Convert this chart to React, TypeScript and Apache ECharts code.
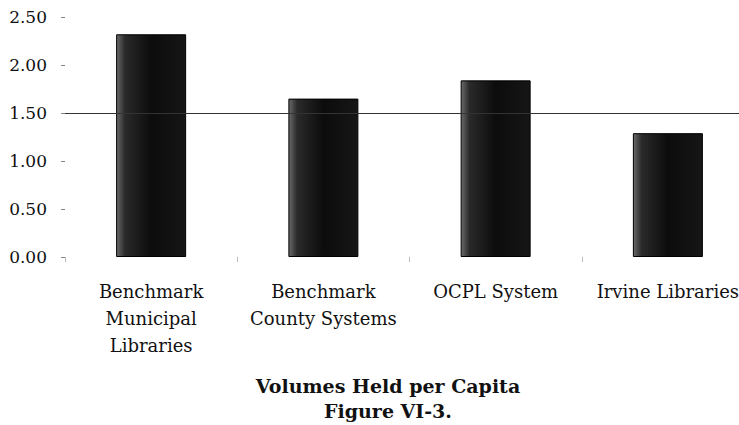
import React, { useEffect, useRef } from "react";
import * as echarts from "echarts";

const categories = [
  "Benchmark\nMunicipal\nLibraries",
  "Benchmark\nCounty Systems",
  "OCPL System",
  "Irvine Libraries",
];
const volumesPerCapita = [2.32, 1.65, 1.84, 1.29];
const referenceValue = 1.5;
const titleLines = ["Volumes Held per Capita", "Figure VI-3."];

export default function App() {
  const ref = useRef<HTMLDivElement>(null);
  useEffect(() => {
    if (!ref.current) return;
    const chart = echarts.init(ref.current, undefined, { renderer: "svg" });
    const font = "DejaVu Serif";
    chart.setOption({
      animation: false,
      backgroundColor: "#ffffff",
      title: {
        text: titleLines.join("\n"),
        left: 383,
        top: 368,
        textAlign: "center",
        textStyle: {
          fontFamily: font,
          fontWeight: "bold",
          fontSize: 19,
          lineHeight: 25,
          color: "#111",
        },
      },
      grid: { left: 65, top: 17, width: 689, height: 240 },
      xAxis: {
        type: "category",
        data: categories,
        axisLine: { show: false },
        axisTick: {
          show: true,
          length: 5,
          lineStyle: { color: "#bbb", width: 1 },
        },
        axisLabel: {
          margin: 21,
          fontFamily: font,
          fontSize: 18,
          lineHeight: 27,
          color: "#111",
          interval: 0,
        },
      },
      yAxis: {
        type: "value",
        min: 0,
        max: 2.5,
        interval: 0.5,
        axisLine: { show: false },
        axisTick: {
          show: true,
          length: 4,
          lineStyle: { color: "#888", width: 1 },
        },
        splitLine: { show: false },
        axisLabel: {
          margin: 18,
          fontFamily: font,
          fontSize: 17,
          color: "#111",
          formatter: (v: number) => v.toFixed(2),
        },
      },
      series: [
        {
          type: "bar",
          data: volumesPerCapita,
          barWidth: 70,
          itemStyle: {
            color: new echarts.graphic.LinearGradient(0, 0, 1, 0, [
              { offset: 0, color: "#6a6a6a" },
              { offset: 0.12, color: "#2a2a2a" },
              { offset: 0.5, color: "#0c0c0c" },
              { offset: 1, color: "#161616" },
            ]),
            borderColor: "#000",
            borderWidth: 1,
          },
          markLine: {
            silent: true,
            symbol: ["none", "none"],
            label: { show: false },
            lineStyle: { color: "#333", width: 1, type: "solid" },
            data: [{ yAxis: referenceValue }],
          },
          z: 2,
        },
      ],
    });
    return () => chart.dispose();
  }, []);
  return (
    <div
      style={{
        position: "absolute",
        left: 0,
        top: 0,
        width: 739,
        height: 425,
        overflow: "hidden",
        background: "#fff",
      }}
    >
      <div ref={ref} style={{ width: 760, height: 425 }} />
    </div>
  );
}
